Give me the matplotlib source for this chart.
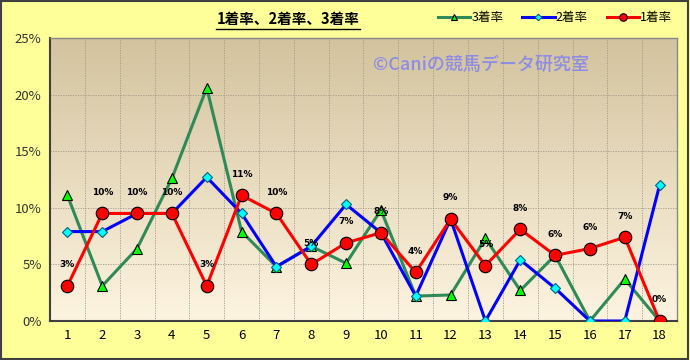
import numpy as np
import matplotlib
matplotlib.use("Agg")
import matplotlib.pyplot as plt
from matplotlib.lines import Line2D
from matplotlib.patches import Rectangle

plt.rcParams['font.family'] = ['Noto Sans CJK JP', 'DejaVu Sans']

# data (percent)
horses = [str(i) for i in range(1, 19)]
win_rate = [3.1, 9.5, 9.5, 9.5, 3.1, 11.1, 9.5, 5.0, 6.9, 7.8, 4.3, 9.0, 4.9, 8.1, 5.8, 6.4, 7.4, 0.0]
second_rate = [7.9, 7.9, 9.5, 9.5, 12.7, 9.5, 4.8, 6.6, 10.3, 7.8, 2.2, 9.0, 0.0, 5.4, 2.9, 0.0, 0.0, 12.0]
third_rate = [11.1, 3.1, 6.4, 12.6, 20.6, 7.9, 4.8, 6.6, 5.1, 9.8, 2.2, 2.3, 7.3, 2.7, 5.8, 0.0, 3.7, 0.0]
y_ticks = [0, 5, 10, 15, 20, 25]

fig = plt.figure(figsize=(6.9, 3.6), dpi=100)
fig.patch.set_facecolor('#FFFF99')
ax = fig.add_axes([50 / 690, 39 / 360, 627 / 690, 283 / 360])

x = np.arange(1, len(horses) + 1)

# gradient plot background
top = np.array([211, 195, 158]) / 255
bottom = np.array([253, 244, 224]) / 255
t = np.linspace(0, 1, 256)[:, None]
grad = (top * (1 - t) + bottom * t)[:, None, :]
ax.imshow(grad, extent=[0.5, 18.5, 0, 25], aspect='auto', origin='upper', zorder=0)

# grid
for v in np.arange(1.5, 18.5, 1):
    ax.axvline(v, color='#a09888', lw=0.6, ls=(0, (1.5, 1.5)), zorder=1)
for v in y_ticks[1:-1]:
    ax.axhline(v, color='#a09888', lw=0.6, ls=(0, (1.5, 1.5)), zorder=1)

ax.plot(x, third_rate, color='#2E8B57', lw=2.2, marker='^', ms=7,
        mfc='#00FF00', mec='black', mew=0.8, zorder=3, label='3着率')
ax.plot(x, second_rate, color='#0000FF', lw=2.2, marker='D', ms=5.5,
        mfc='#00FFFF', mec='#006080', mew=0.8, zorder=4, label='2着率')
ax.plot(x, win_rate, color='#FF0000', lw=2.2, marker='o', ms=9,
        mfc='#FF0000', mec='black', mew=0.8, zorder=5, label='1着率')

for xi, v in zip(x, win_rate):
    ax.annotate(f"{v:.0f}%", (xi, v), xytext=(0, 12), textcoords='offset points',
                ha='center', va='bottom', fontsize=6.5, fontweight='bold',
                family=['DejaVu Sans'], zorder=6)

ax.set_xlim(0.5, 18.5)
ax.set_ylim(0, 25)
ax.set_xticks(x)
ax.set_xticklabels(horses, fontsize=9.5)
ax.set_yticks(y_ticks)
ax.set_yticklabels([f"{v}%" for v in y_ticks], fontsize=9.5, color='#333333')
ax.tick_params(length=0, pad=6)
for side in ['left', 'bottom']:
    ax.spines[side].set_color('#404040')
    ax.spines[side].set_linewidth(1.5)
for side in ['right', 'top']:
    ax.spines[side].set_color('#888888')
    ax.spines[side].set_linewidth(1)

# watermark
ax.text(0.515, 0.905, '©Caniの競馬データ研究室', transform=ax.transAxes,
        fontsize=13, fontweight='medium', color='#8585EC', alpha=0.9,
        va='center', ha='left', zorder=2)

# title with underline
fig.text(288 / 690, 1 - 19 / 360, '1着率、2着率、3着率', ha='center', va='center',
         fontsize=10.5, fontweight='bold')
fig.add_artist(Line2D([216 / 690, 360 / 690], [1 - 29 / 360, 1 - 29 / 360],
                      color='black', lw=1, transform=fig.transFigure))

fig.legend(loc='center', bbox_to_anchor=(555 / 690, 1 - 18 / 360), ncol=3, frameon=False,
           fontsize=9, handlelength=2.6, columnspacing=1.5, handletextpad=0.1,
           markerscale=0.6)

# outer border
fig.add_artist(Rectangle((0.001, 0.002), 0.996, 0.995, transform=fig.transFigure,
                         fill=False, edgecolor='#404040', lw=1.5))

fig.savefig('out.png', dpi=100, facecolor=fig.get_facecolor())
